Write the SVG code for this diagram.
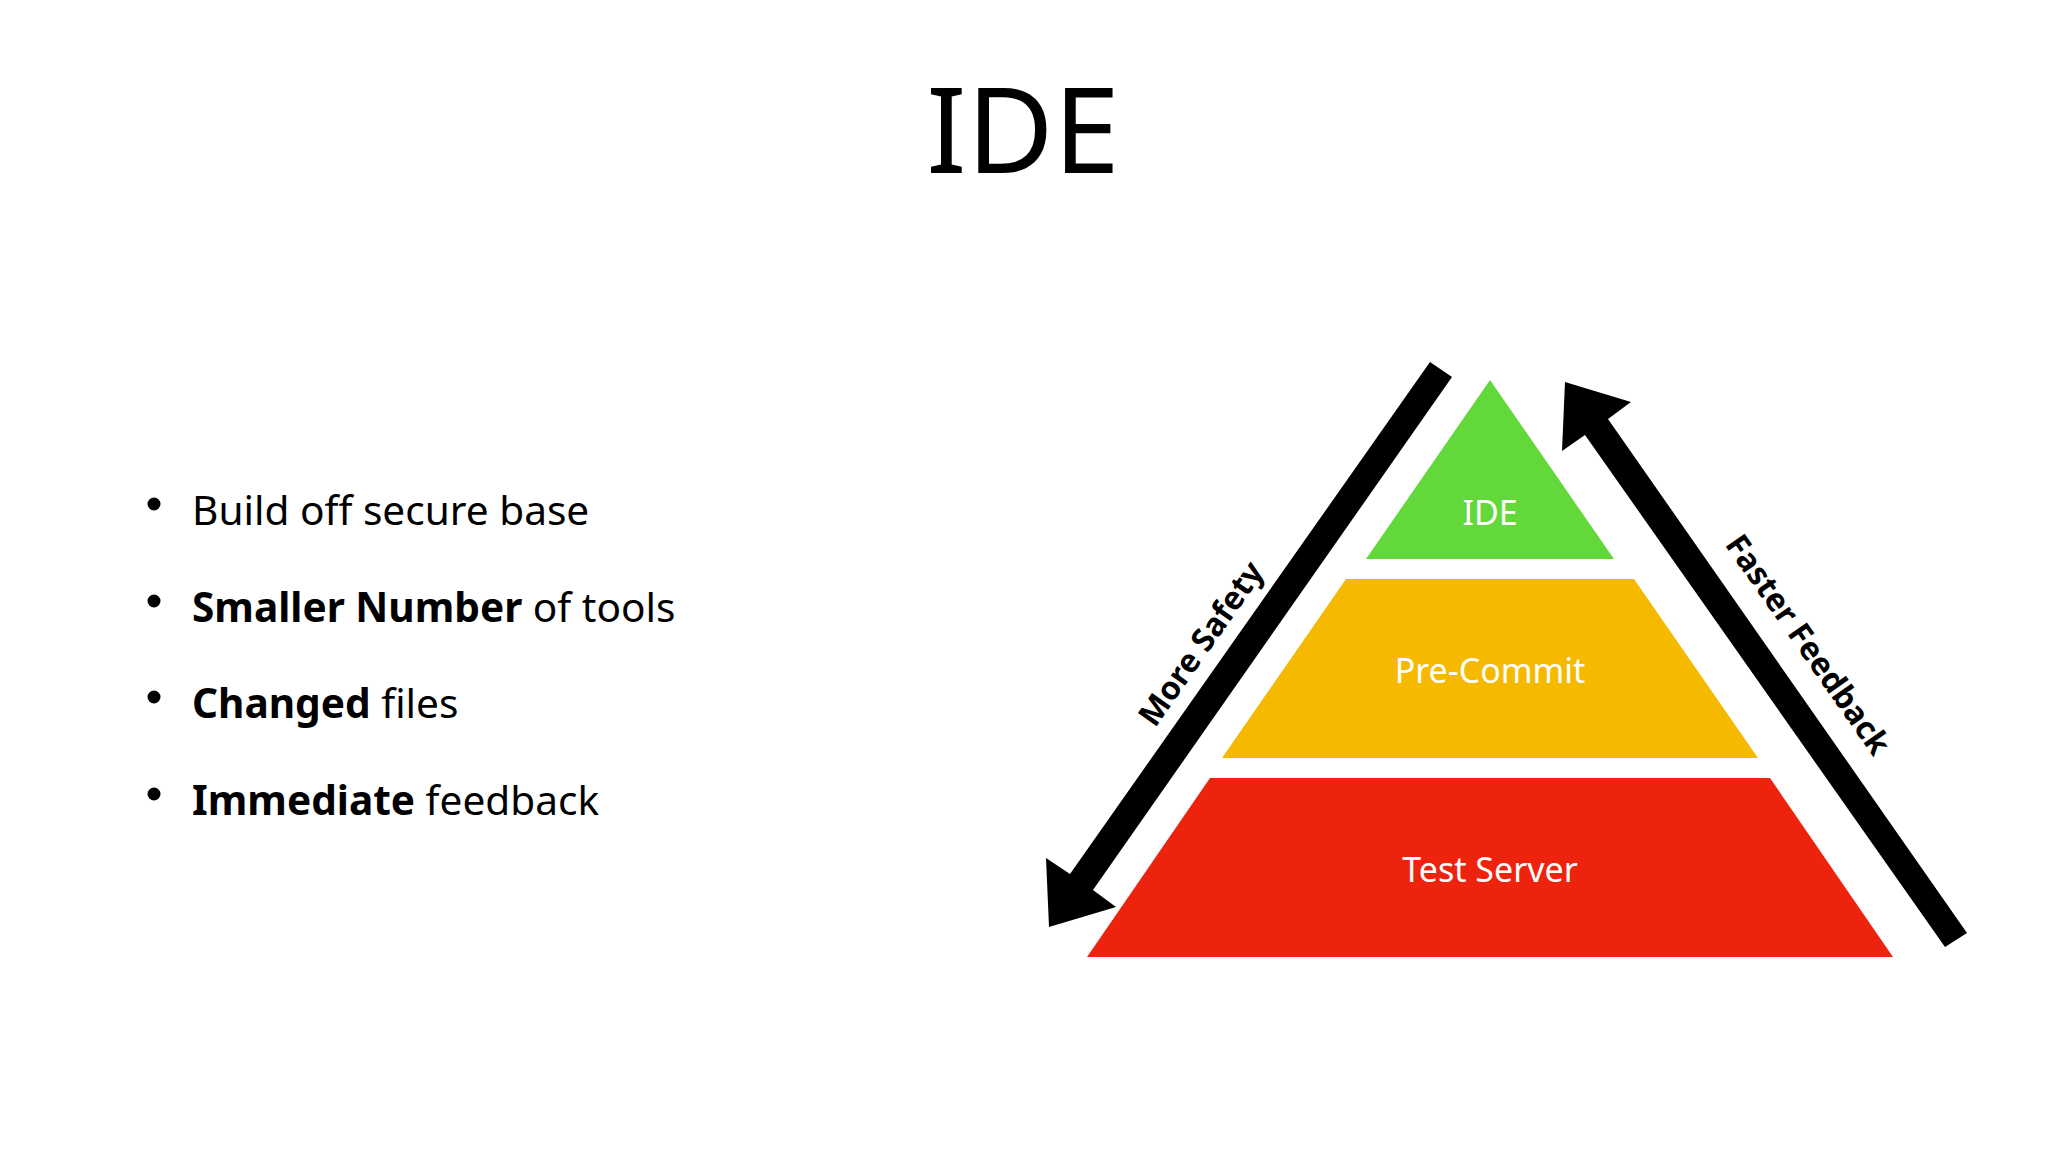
<svg xmlns="http://www.w3.org/2000/svg" width="2048" height="1152" viewBox="0 0 2048 1152">
  <style>
    .title { font-family: "Noto Sans", "Open Sans", sans-serif; font-size: 119px; fill: #000; }
    .bullet { font-family: "Noto Sans", "Open Sans", sans-serif; font-size: 40.6px; fill: #000; }
    .b { font-weight: bold; }
    .lvl { font-family: "Noto Sans", "Open Sans", sans-serif; font-size: 34px; fill: #ffffff; text-anchor: middle; }
    .arrowlbl { font-family: "Noto Sans", "Open Sans", sans-serif; font-size: 32px; font-weight: bold; fill: #000; text-anchor: middle; }
    .dot { fill: #000; }
  </style>
  <rect width="2048" height="1152" fill="#ffffff"/>

  <g id="title">
    <text class="title" x="1023" y="173" text-anchor="middle">IDE</text>
  </g>

  <g id="bullets">
    <circle class="dot" cx="154" cy="504" r="6.5"/>
    <text class="bullet" x="192" y="525">Build off secure base</text>
    <circle class="dot" cx="154" cy="601" r="6.5"/>
    <text class="bullet" x="192" y="622"><tspan class="b">Smaller Number</tspan> of tools</text>
    <circle class="dot" cx="154" cy="697" r="6.5"/>
    <text class="bullet" x="192" y="718"><tspan class="b">Changed</tspan> files</text>
    <circle class="dot" cx="154" cy="794" r="6.5"/>
    <text class="bullet" x="192" y="815"><tspan class="b">Immediate</tspan> feedback</text>
  </g>

  <g id="node-ide">
    <polygon points="1490,380 1614,559 1366,559" fill="#62D83A"/>
    <text class="lvl" x="1490" y="525">IDE</text>
  </g>
  <g id="node-precommit">
    <polygon points="1346,579 1634,579 1758,758 1222,758" fill="#F5BA00"/>
    <text class="lvl" x="1490" y="683">Pre-Commit</text>
  </g>
  <g id="node-testserver">
    <polygon points="1210,778 1770,778 1893,957 1087,957" fill="#EE230D"/>
    <text class="lvl" x="1490" y="882">Test Server</text>
  </g>

  <g id="connectors">
    <g id="arrow-more-safety">
      <polygon points="1430,362 1452,377 1093,890 1116,907 1049,927 1046,858 1070,874" fill="#000"/>
      <text class="arrowlbl" transform="translate(1210,650) rotate(-54.94)" x="0" y="0">More Safety</text>
    </g>
    <g id="arrow-faster-feedback">
      <polygon points="1945,947 1585,435 1562,451 1565,382 1631,402 1608,419 1967,933" fill="#000"/>
      <text class="arrowlbl" transform="translate(1799,651) rotate(54.94)" x="0" y="0">Faster Feedback</text>
    </g>
  </g>
</svg>
